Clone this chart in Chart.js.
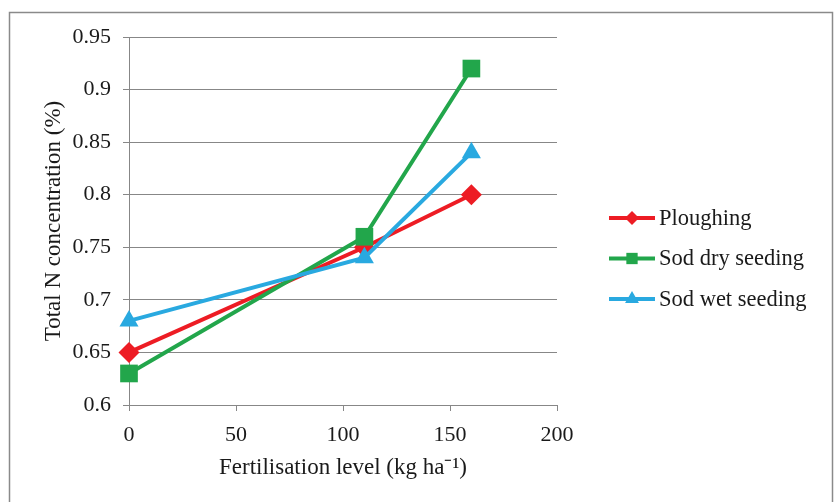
<!DOCTYPE html>
<html>
<head>
<meta charset="utf-8">
<script src="https://cdn.jsdelivr.net/npm/chart.js@4/dist/chart.umd.min.js"></script>
<style>
  html, body { margin: 0; padding: 0; background: #fff; }
  #wrap { width: 840px; height: 502px; position: relative; }
</style>
</head>
<body>
<div id="wrap"><canvas id="lineChart"></canvas></div>
<script>
  // values
  const levels = [0, 110, 160];
  const ploughing = [0.65, 0.75, 0.80];
  const sodDry = [0.63, 0.76, 0.92];
  const sodWet = [0.68, 0.74, 0.84];
  const xTicks = [0, 50, 100, 150, 200];
  const yTicks = [0.6, 0.65, 0.7, 0.75, 0.8, 0.85, 0.9, 0.95];

  const toPoints = (vals) => levels.map((x, i) => ({ x: x, y: vals[i] }));
  const gridColor = '#878787';
  const serif = "'Liberation Serif', serif";

  Chart.defaults.font.family = serif;
  Chart.defaults.font.size = 22;
  Chart.defaults.color = '#1a1a1a';

  // grey frame round the whole chart
  const framePlugin = {
    id: 'frame',
    beforeDraw(chart) {
      const ctx = chart.ctx;
      ctx.save();
      ctx.fillStyle = '#fff';
      ctx.fillRect(0, 0, chart.width, chart.height);
      ctx.strokeStyle = '#8a8a8a';
      ctx.lineWidth = 1.5;
      ctx.strokeRect(9.5, 12.5, 823, 520);
      ctx.restore();
    }
  };

  // legend on the right: line with marker in the middle
  const sideLegend = {
    id: 'sideLegend',
    afterDraw(chart) {
      const ctx = chart.ctx;
      chart.data.datasets.forEach((ds, i) => {
        const y = 218 + i * 40.5;
        ctx.save();
        ctx.strokeStyle = ds.borderColor;
        ctx.lineWidth = 4;
        ctx.beginPath();
        ctx.moveTo(609, y);
        ctx.lineTo(655, y);
        ctx.stroke();
        ctx.fillStyle = ds.backgroundColor;
        Chart.helpers.drawPoint(ctx, { pointStyle: ds.pointStyle, radius: ds.legendRadius, rotation: 0, borderWidth: 0 }, 632, y);
        ctx.fillStyle = '#1a1a1a';
        ctx.font = '22.5px ' + serif;
        ctx.textBaseline = 'middle';
        ctx.fillText(ds.label, 659, y + 1);
        ctx.restore();
      });
    }
  };

  new Chart(document.getElementById('lineChart'), {
    type: 'line',
    data: {
      datasets: [{
        label: 'Ploughing',
        data: toPoints(ploughing),
        borderColor: '#ED1C24',
        backgroundColor: '#ED1C24',
        pointStyle: 'rectRot',
        pointRadius: 10.5,
        legendRadius: 7,
        order: 3
      }, {
        label: 'Sod dry seeding',
        data: toPoints(sodDry),
        borderColor: '#22A64B',
        backgroundColor: '#22A64B',
        pointStyle: 'rect',
        pointRadius: 12.5,
        legendRadius: 8,
        order: 2
      }, {
        label: 'Sod wet seeding',
        data: toPoints(sodWet),
        borderColor: '#29A9E0',
        backgroundColor: '#29A9E0',
        pointStyle: 'triangle',
        pointRadius: 11,
        legendRadius: 8,
        order: 1
      }]
    },
    options: {
      responsive: true,
      maintainAspectRatio: false,
      animation: false,
      layout: { padding: { left: 30, right: 283, top: 37, bottom: 18 } },
      datasets: { line: { clip: false } },
      elements: {
        line: { borderWidth: 4, tension: 0 },
        point: { borderWidth: 0, hoverRadius: 11 }
      },
      plugins: {
        legend: { display: false },
        tooltip: { enabled: false }
      },
      scales: {
        x: {
          type: 'linear',
          min: 0,
          max: 200,
          afterBuildTicks: (s) => { s.ticks = xTicks.map(v => ({ value: v })); },
          afterFit: (s) => { s.height = 79; },
          grid: { drawOnChartArea: false, color: gridColor, tickLength: 6 },
          border: { color: gridColor },
          ticks: { padding: 11, maxRotation: 0 },
          title: { display: true, text: 'Fertilisation level (kg ha⁻¹)', font: { size: 23 }, padding: { top: 0, bottom: 2 } }
        },
        y: {
          min: 0.6,
          max: 0.95,
          afterBuildTicks: (s) => { s.ticks = yTicks.map(v => ({ value: v })); },
          afterFit: (s) => { s.width = 99; },
          grid: { color: gridColor, tickLength: 6 },
          border: { color: gridColor },
          ticks: { padding: 12, callback: (v) => String(v) },
          title: { display: true, text: 'Total N concentration (%)', font: { size: 23 }, padding: { top: 10, bottom: 0 } }
        }
      }
    },
    plugins: [framePlugin, sideLegend]
  });
</script>
</body>
</html>
